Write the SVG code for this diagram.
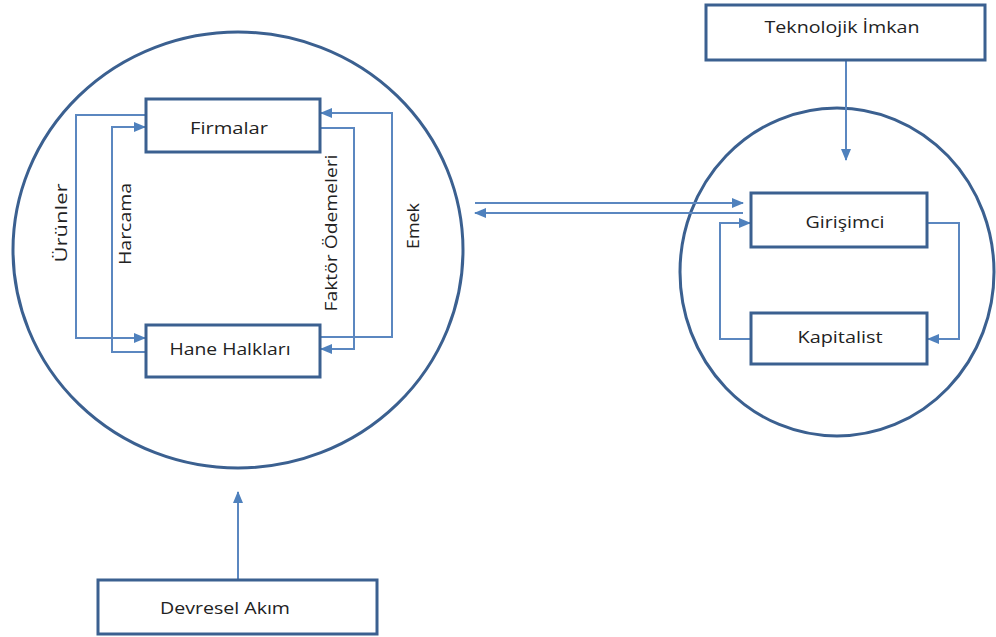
<svg xmlns="http://www.w3.org/2000/svg" width="996" height="637" viewBox="0 0 996 637">
<style>
.box{fill:#fff;stroke:#3B6090;stroke-width:3}
.circ{fill:none;stroke:#3B6090;stroke-width:3}
.con{fill:none;stroke:#5B87C0;stroke-width:2}
.lbl{font-family:"Open Sans","Liberation Sans",sans-serif;font-size:16px;fill:#222;text-anchor:middle;dominant-baseline:central}
</style>
<defs>
<marker id="ah" markerUnits="userSpaceOnUse" markerWidth="12" markerHeight="10" refX="11" refY="5" orient="auto">
<path d="M0,0 L12,5 L0,10 Z" fill="#4F81BD"/>
</marker>
</defs>
<g id="circle-left"><ellipse class="circ" cx="238" cy="250" rx="225" ry="218"/></g>
<g id="circle-right"><ellipse class="circ" cx="837" cy="272" rx="157" ry="164"/></g>
<g id="connectors">
<polyline class="con" points="146,115 76,115 76,338 145,338" marker-end="url(#ah)"/>
<polyline class="con" points="146,352 112,352 112,127 145,127" marker-end="url(#ah)"/>
<polyline class="con" points="320,128 354,128 354,349 321,349" marker-end="url(#ah)"/>
<polyline class="con" points="320,337 392,337 392,113 321,113" marker-end="url(#ah)"/>
<line class="con" x1="475" y1="203" x2="743" y2="203" marker-end="url(#ah)"/>
<line class="con" x1="743" y1="213" x2="475" y2="213" marker-end="url(#ah)"/>
<polyline class="con" points="927,223 959,223 959,339 928,339" marker-end="url(#ah)"/>
<polyline class="con" points="751,339 720,339 720,223 750,223" marker-end="url(#ah)"/>
<line class="con" x1="846" y1="60" x2="846" y2="160" marker-end="url(#ah)"/>
<line class="con" x1="238" y1="580" x2="238" y2="492" marker-end="url(#ah)"/>
<text class="lbl" transform="translate(61,223) rotate(-90)" textLength="79" lengthAdjust="spacingAndGlyphs">Ürünler</text>
<text class="lbl" transform="translate(125,224) rotate(-90)" textLength="82" lengthAdjust="spacingAndGlyphs">Harcama</text>
<text class="lbl" transform="translate(331,233) rotate(-90)" textLength="157" lengthAdjust="spacingAndGlyphs">Faktör Ödemeleri</text>
<text class="lbl" transform="translate(413,226) rotate(-90)" textLength="46" lengthAdjust="spacingAndGlyphs">Emek</text>
</g>
<g id="firmalar"><rect class="box" x="146" y="99" width="174" height="53"/><text class="lbl" x="229" y="128" textLength="78" lengthAdjust="spacingAndGlyphs">Firmalar</text></g>
<g id="hane-halklari"><rect class="box" x="146" y="325" width="174" height="52"/><text class="lbl" x="230" y="349" textLength="121" lengthAdjust="spacingAndGlyphs">Hane Halkları</text></g>
<g id="girisimci"><rect class="box" x="751" y="193" width="176" height="54"/><text class="lbl" x="845" y="222" textLength="79" lengthAdjust="spacingAndGlyphs">Girişimci</text></g>
<g id="kapitalist"><rect class="box" x="751" y="313" width="176" height="51"/><text class="lbl" x="840" y="337" textLength="85" lengthAdjust="spacingAndGlyphs">Kapitalist</text></g>
<g id="teknolojik-imkan"><rect class="box" x="706" y="5" width="279" height="55"/><text class="lbl" x="842" y="27" textLength="155" lengthAdjust="spacingAndGlyphs">Teknolojik İmkan</text></g>
<g id="devresel-akim"><rect class="box" x="98" y="580" width="279" height="54"/><text class="lbl" x="225" y="608" textLength="130" lengthAdjust="spacingAndGlyphs">Devresel Akım</text></g>
</svg>
